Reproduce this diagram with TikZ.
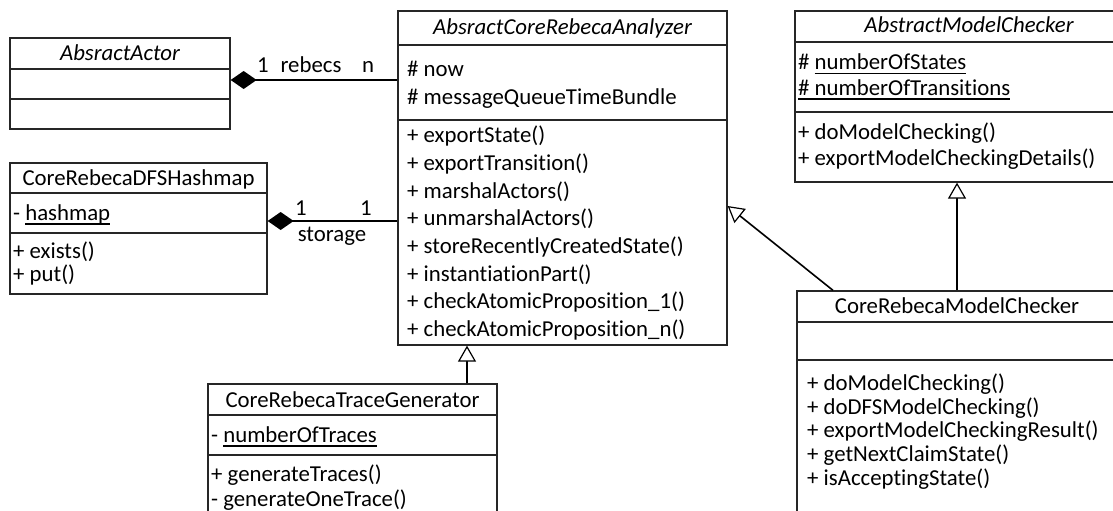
\documentclass[tikz,border=0pt]{standalone}
\usepackage{fontspec}
\setmainfont{Carlito}[Ligatures=NoCommon]
\usetikzlibrary{arrows.meta,fit}

% underline drawn as a rule below the baseline
\newcommand\ulbar[1]{\sbox0{#1}\rlap{\rule[-4.2pt]{\wd0}{1.5pt}}\usebox0}

\begin{document}
\begin{tikzpicture}[x=1pt,y=-1pt,
  classbox/.style={draw=black!85,line width=1.3pt,inner sep=0pt},
  divider/.style={draw=black!85,line width=1.3pt},
  umlfont/.style={font=\fontsize{22.8}{28}\selectfont},
  member/.style={umlfont,anchor=base west,inner sep=0pt},
  title/.style={umlfont,anchor=base,inner sep=0pt},
  mult/.style={umlfont,anchor=base,inner sep=0pt},
  conn/.style={line width=1.6pt,black},
  compose/.style={conn,-{Diamond[length=26pt,width=18pt]}},
  inherit/.style={conn,-{Triangle[open,fill=white,length=16pt,width=18pt,line width=1.2pt]}}
]
\useasboundingbox (0,0) rectangle (1113,511);
\clip (0,0) rectangle (1113,511);

% ---------- AbsractActor ----------
\node[classbox,fit={(10,38) (230,129)}] (actor) {};
\draw[divider] (actor.west |- 0,69) -- (actor.east |- 0,69);
\draw[divider] (actor.west |- 0,99) -- (actor.east |- 0,99);
\node[title] (actorT) at (120,61) {\itshape AbsractActor};

% ---------- AbsractCoreRebecaAnalyzer ----------
\node[classbox,fit={(398,11) (727,345)}] (analyzer) {};
\draw[divider] (analyzer.west |- 0,45) -- (analyzer.east |- 0,45);
\draw[divider] (analyzer.west |- 0,120) -- (analyzer.east |- 0,120);
\node[title] (anT) at (562.5,35) {\itshape AbsractCoreRebecaAnalyzer};
\node[member] (anA1) at (407,76) {\# now};
\node[member] (anA2) at (407,104) {\# messageQueueTimeBundle};
\node[member] (anM1) at (407,142.7) {+ exportState()};
\node[member] (anM2) at (407,170.4) {+ exportTransition()};
\node[member] (anM3) at (407,198.1) {+ marshalActors()};
\node[member] (anM4) at (407,225.8) {+ unmarshalActors()};
\node[member] (anM5) at (407,253.5) {+ storeRecentlyCreatedState()};
\node[member] (anM6) at (407,281.2) {+ instantiationPart()};
\node[member] (anM7) at (407,308.9) {+ checkAtomicProposition\_1()};
\node[member] (anM8) at (407,336.6) {+ checkAtomicProposition\_n()};

% ---------- AbstractModelChecker ----------
\node[classbox,fit={(795,11) (1143,182)}] (amc) {};
\draw[divider] (amc.west |- 0,42) -- (amc.east |- 0,42);
\draw[divider] (amc.west |- 0,112) -- (amc.east |- 0,112);
\node[title] (amcT) at (969,32.7) {\itshape AbstractModelChecker};
\node[member] (amcA1) at (798,70) {\# \ulbar{numberOfStates}};
\node[member] (amcA2) at (798,95.7) {\ulbar{\# numberOfTransitions}};
\node[member] (amcM1) at (798,139.3) {+ doModelChecking()};
\node[member] (amcM2) at (798,165) {+ exportModelCheckingDetails()};

% ---------- CoreRebecaDFSHashmap ----------
\node[classbox,fit={(10,163) (267,294)}] (dfs) {};
\draw[divider] (dfs.west |- 0,193) -- (dfs.east |- 0,193);
\draw[divider] (dfs.west |- 0,233) -- (dfs.east |- 0,233);
\node[title] (dfsT) at (138.5,185) {CoreRebecaDFSHashmap};
\node[member] (dfsA1) at (13,220.7) {- \ulbar{hashmap}};
\node[member] (dfsM1) at (13,258) {+ exists()};
\node[member] (dfsM2) at (13,281.7) {+ put()};

% ---------- CoreRebecaModelChecker ----------
\node[classbox,fit={(797,291) (1117,560)}] (mc) {};
\draw[divider] (mc.west |- 0,322) -- (mc.east |- 0,322);
\draw[divider] (mc.west |- 0,360) -- (mc.east |- 0,360);
\node[title] (mcT) at (957,313.3) {CoreRebecaModelChecker};
\node[member] (mcM1) at (807,390) {+ doModelChecking()};
\node[member] (mcM2) at (807,414.3) {+ doDFSModelChecking()};
\node[member] (mcM3) at (807,437.7) {+ exportModelCheckingResult()};
\node[member] (mcM4) at (807,461) {+ getNextClaimState()};
\node[member] (mcM5) at (807,485) {+ isAcceptingState()};

% ---------- CoreRebecaTraceGenerator ----------
\node[classbox,fit={(208,384) (497,560)}] (trace) {};
\draw[divider] (trace.west |- 0,415) -- (trace.east |- 0,415);
\draw[divider] (trace.west |- 0,455) -- (trace.east |- 0,455);
\node[title] (trT) at (352.5,407.3) {CoreRebecaTraceGenerator};
\node[member] (trA1) at (211,442.7) {- \ulbar{numberOfTraces}};
\node[member] (trM1) at (211,481.7) {+ generateTraces()};
\node[member] (trM2) at (211,506) {- generateOneTrace()};

% ---------- compositions ----------
\draw[compose] (analyzer.west |- 0,80) -- (actor.east |- 0,80);
\node[mult] (m1) at (263,73) {1};
\node[mult] (m2) at (311,73) {rebecs};
\node[mult] (m3) at (368,73) {n};

\draw[compose] (analyzer.west |- 0,221) -- (dfs.east |- 0,221);
\node[mult] (s1) at (301,215) {1};
\node[mult] (s2) at (366,215) {1};
\node[mult] (s3) at (332,241) {storage};

% ---------- generalizations ----------
\draw[inherit] (trace.north -| 467,0) -- (analyzer.south -| 467,0);
\draw[inherit] (mc.north -| 833,0) -- (analyzer.east |- 0,206);
\draw[inherit] (mc.north) -- (amc.south -| mc.north);
\end{tikzpicture}
\end{document}
